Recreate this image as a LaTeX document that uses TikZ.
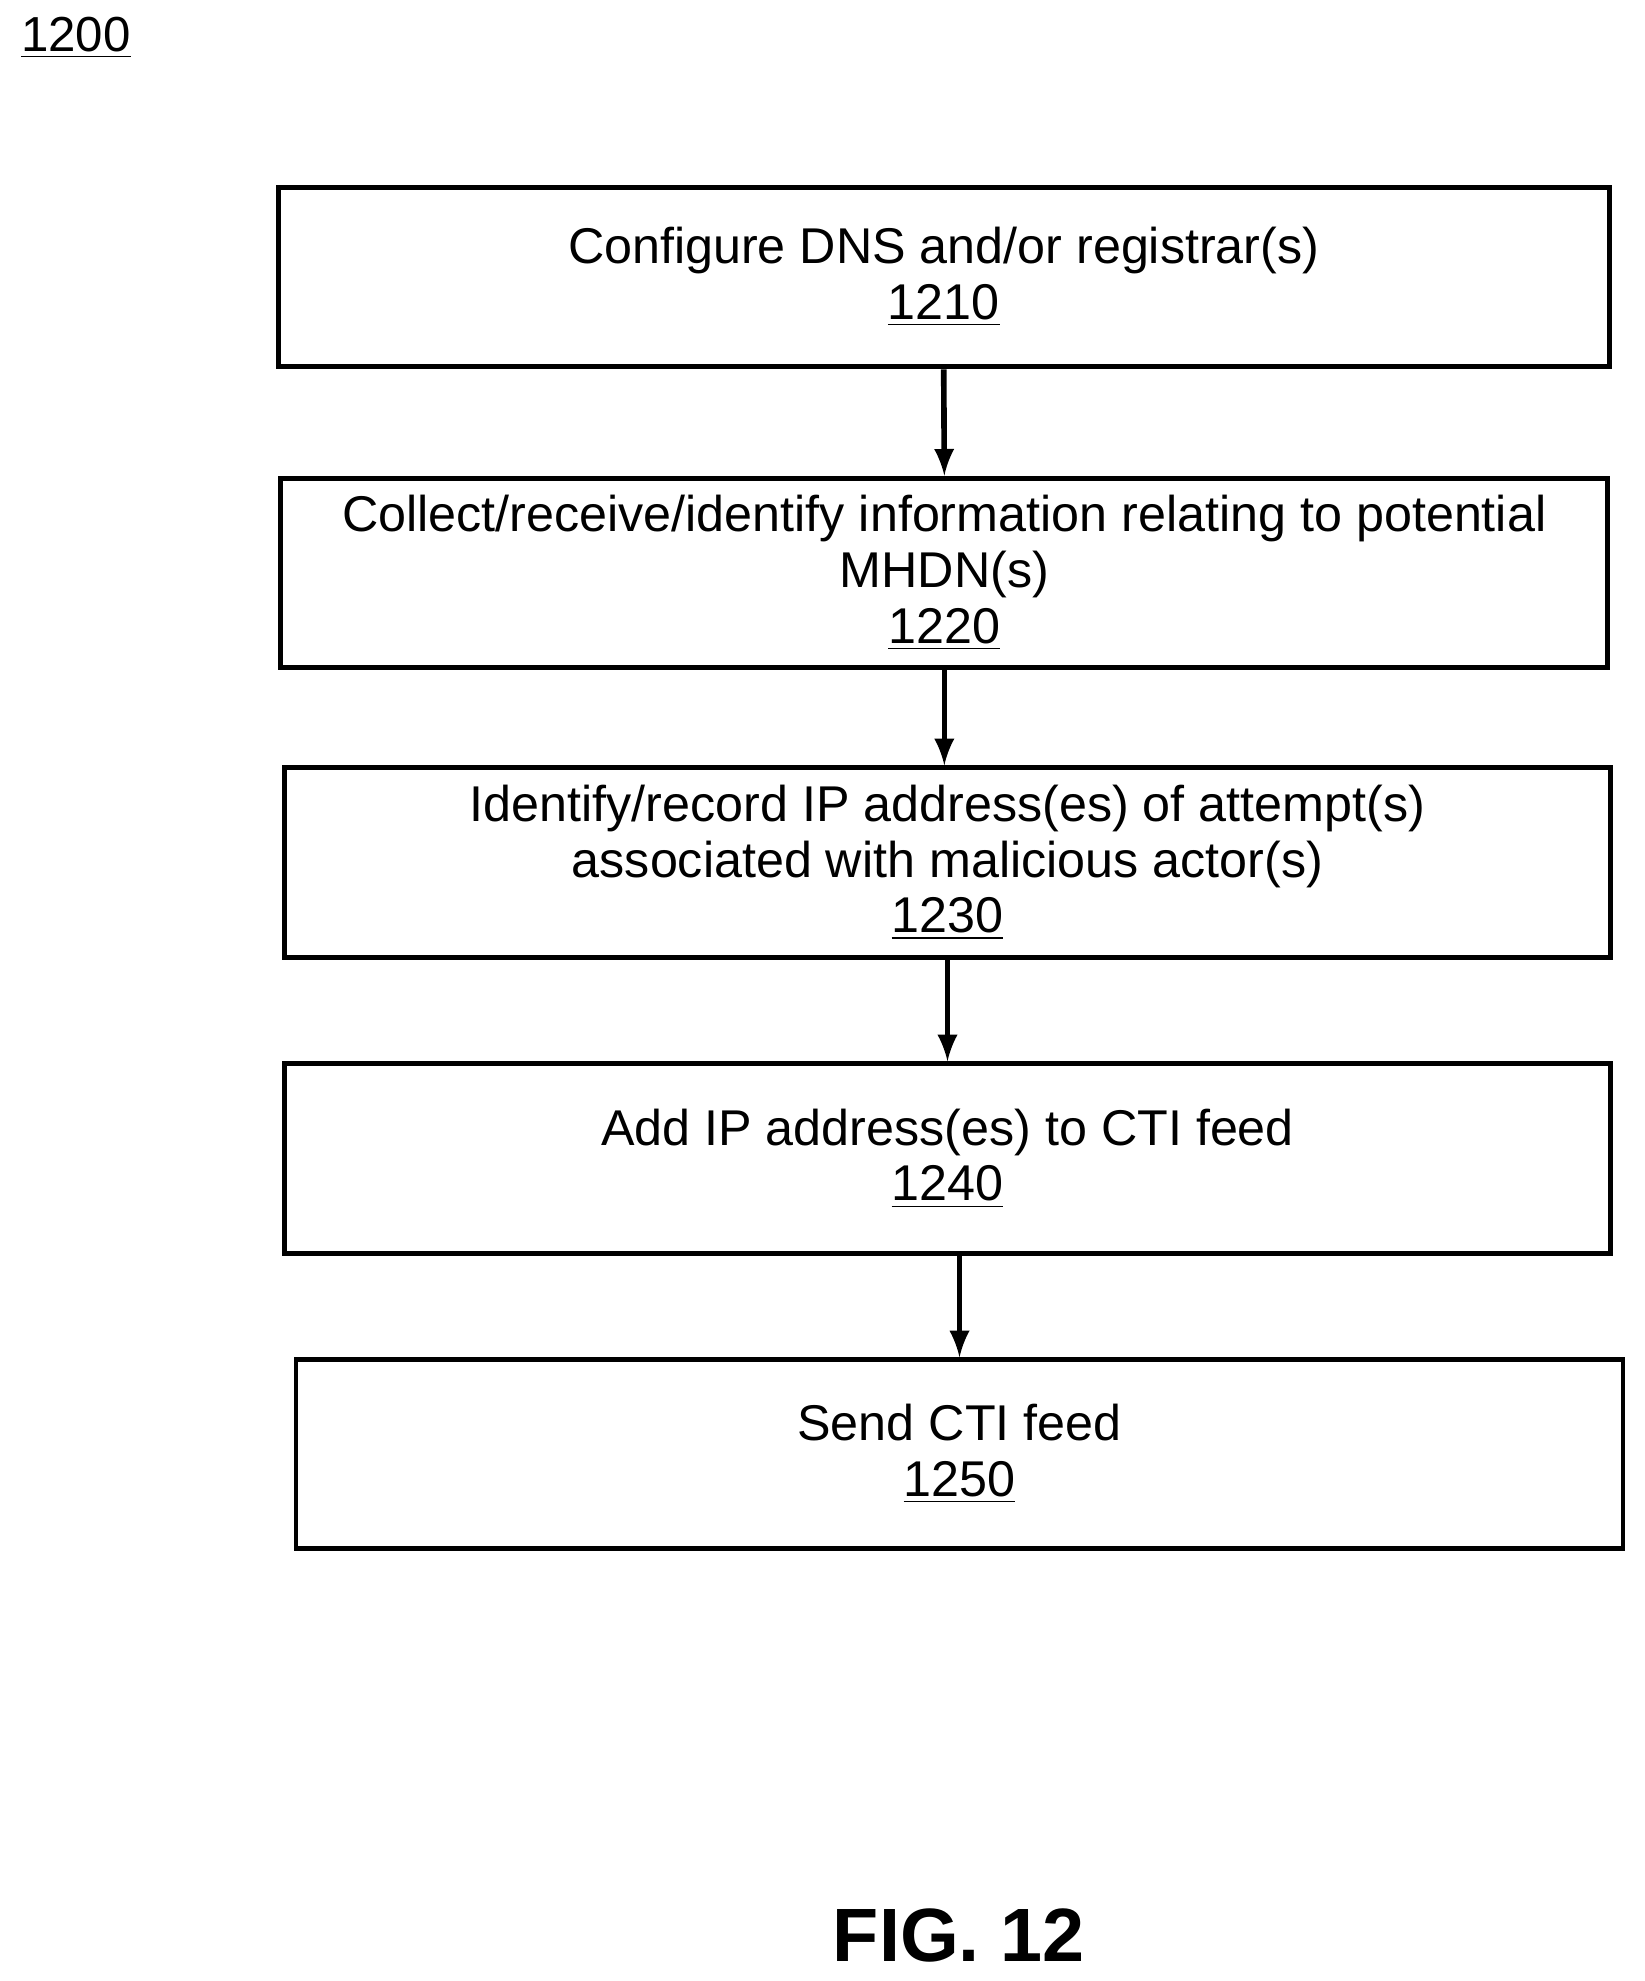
\documentclass[tikz,border=0pt]{standalone}
\usepackage{fontspec}
\setmainfont{Liberation Sans}
\begin{document}
\begin{tikzpicture}[x=0.01265cm,y=-0.01265cm,
  flowstep/.style={draw, line width=1.4pt, align=center, inner sep=0pt,
    font=\fontsize{14.3}{15.8}\selectfont},
  flow/.style={->, line width=1.6pt, >=latex}]
  \useasboundingbox (0,0) rectangle (1300,1566);
  \node[font=\fontsize{14}{17}\selectfont] (fig) at (60,30) {\underline{1200}};
  \node[flowstep, minimum width=1052*0.01265cm, minimum height=142*0.01265cm] (s1210) at (746,219)
    {Configure DNS and/or registrar(s)\\\underline{1210}};
  \node[flowstep, minimum width=1049*0.01265cm, minimum height=150*0.01265cm] (s1220) at (746.5,453)
    {Collect/receive/identify information relating to potential\\MHDN(s)\\\underline{1220}};
  \node[flowstep, minimum width=1048*0.01265cm, minimum height=150*0.01265cm] (s1230) at (749,682)
    {Identify/record IP address(es) of attempt(s)\\associated with malicious actor(s)\\\underline{1230}};
  \node[flowstep, minimum width=1048*0.01265cm, minimum height=150*0.01265cm] (s1240) at (749,916)
    {Add IP address(es) to CTI feed\\\underline{1240}};
  \node[flowstep, minimum width=1049*0.01265cm, minimum height=149*0.01265cm] (s1250) at (758.5,1149.5)
    {Send CTI feed\\\underline{1250}};
  \draw[flow] (s1210.south) -- (s1220.north);
  \draw[flow] (s1220.south) -- (s1220.south |- s1230.north);
  \draw[flow] (s1230.south) -- (s1240.north);
  \draw[flow] (s1240.south -| s1250.north) -- (s1250.north);
  \node[font=\bfseries\fontsize{21.5}{26}\selectfont] (title) at (758,1530) {FIG. 12};
\end{tikzpicture}
\end{document}
